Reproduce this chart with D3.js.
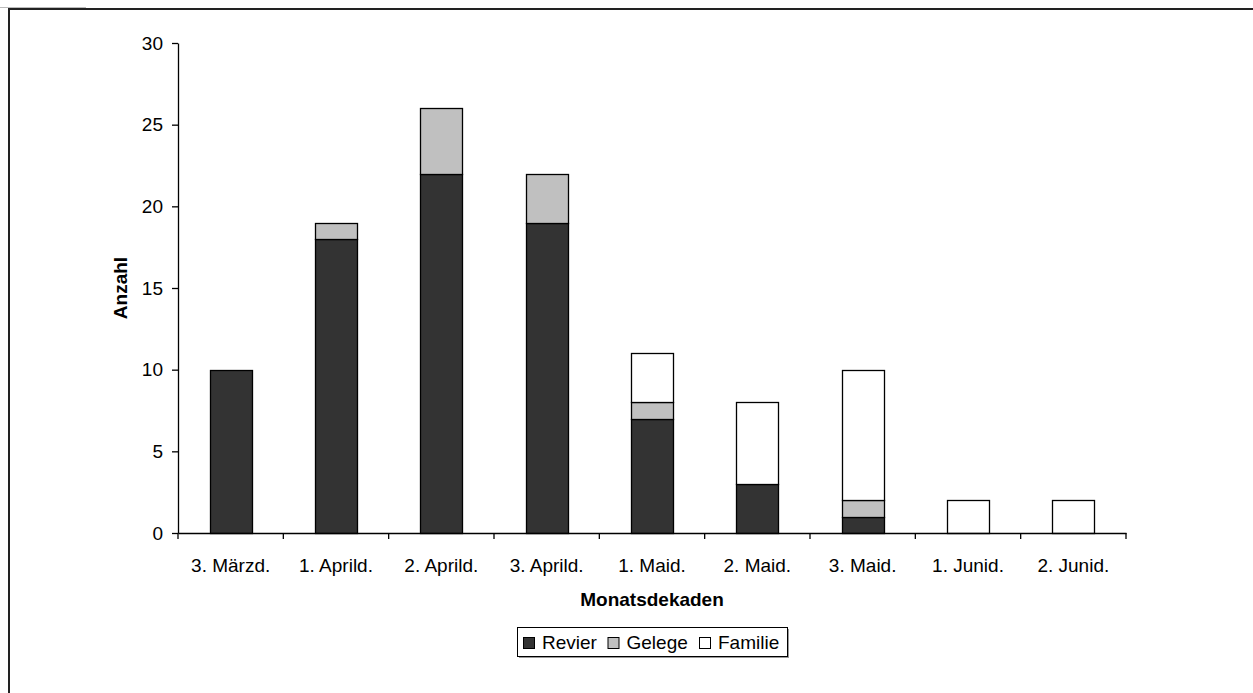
<!DOCTYPE html>
<html><head><meta charset="utf-8">
<script src="https://cdn.jsdelivr.net/npm/d3@7"></script>
<style>
html,body{margin:0;padding:0;background:#fff;}
svg{display:block;font-family:"Liberation Sans",Arial,sans-serif;}
</style></head>
<body>
<svg id="chart" width="1253" height="693"></svg>
<script>
const categories = ["3. Märzd.","1. Aprild.","2. Aprild.","3. Aprild.","1. Maid.","2. Maid.","3. Maid.","1. Junid.","2. Junid."];
const revier  = [10,18,22,19,7,3,1,0,0];
const gelege  = [0,1,4,3,1,0,1,0,0];
const familie = [0,0,0,0,3,5,8,2,2];
const seriesNames = ["Revier","Gelege","Familie"];
const seriesColors = ["#333333","#C0C0C0","#FFFFFF"];
const yTicks = [0,5,10,15,20,25,30];

(function(){
const svg = d3.select("#chart");
const fs = 19;

// outer frame
svg.append("rect").attr("x",9).attr("y",9).attr("width",1260).attr("height",700)
  .attr("fill","none").attr("stroke","#222").attr("stroke-width",2);
svg.append("line").attr("x1",0).attr("x2",86).attr("y1",7.5).attr("y2",7.5)
  .attr("stroke","#bbb").attr("stroke-width",1);

const pL = 178, pR = 1126, pT = 43, pB = 533;
const x = d3.scaleBand().domain(categories).range([pL,pR]).padding(0);
const y = d3.scaleLinear().domain([0,30]).range([pB,pT]);

const table = categories.map((c,i)=>({cat:c, Revier:revier[i], Gelege:gelege[i], Familie:familie[i]}));
const stack = d3.stack().keys(seriesNames)(table);

const g = svg.append("g");
stack.forEach((layer,si)=>{
  g.selectAll(null).data(layer.filter(d=>d[1]-d[0]>0)).enter().append("rect")
    .attr("x",d=>Math.round(x(d.data.cat)+x.bandwidth()*0.3)+0.5)
    .attr("width",Math.round(x.bandwidth()*0.4))
    .attr("y",d=>Math.round(y(d[1]))+0.5)
    .attr("height",d=>Math.round(y(d[0]))-Math.round(y(d[1])))
    .attr("fill",seriesColors[si]).attr("stroke","#000").attr("stroke-width",1.3);
});

// y axis
const yAxis = svg.append("g").attr("transform",`translate(${pL},0)`)
  .call(d3.axisLeft(y).tickValues(yTicks).tickSize(6).tickPadding(9).tickSizeOuter(0));
yAxis.select(".domain").attr("stroke","#000").attr("stroke-width",1.3);
yAxis.selectAll(".tick line").attr("stroke","#000").attr("stroke-width",1.3);
yAxis.selectAll("text").attr("font-size",fs).attr("fill","#000").attr("font-family","Liberation Sans, Arial, sans-serif");

// x axis
const xAxis = svg.append("g").attr("transform",`translate(0,${pB})`)
  .call(d3.axisBottom(x).tickSize(0).tickPadding(26).tickSizeOuter(0));
xAxis.select(".domain").attr("stroke","#000").attr("stroke-width",1.3);
xAxis.selectAll("text").attr("font-size",fs).attr("fill","#000").attr("font-family","Liberation Sans, Arial, sans-serif");
const bounds = categories.map(c=>x(c)).concat([x(categories[categories.length-1])+x.bandwidth()]);
svg.append("g").selectAll("line").data(bounds).enter().append("line")
  .attr("x1",d=>d).attr("x2",d=>d).attr("y1",pB).attr("y2",pB+6)
  .attr("stroke","#000").attr("stroke-width",1.3);

// axis titles
svg.append("text").attr("x",(pL+pR)/2).attr("y",606).attr("text-anchor","middle")
  .attr("font-size",fs).attr("font-weight","bold").text("Monatsdekaden");
svg.append("text").attr("transform",`translate(127,${(pT+pB)/2}) rotate(-90)`)
  .attr("text-anchor","middle").attr("font-size",fs).attr("font-weight","bold").text("Anzahl");

// legend
const lg = svg.append("g");
lg.append("rect").attr("x",519).attr("y",629).attr("width",270).attr("height",29).attr("fill","#999");
lg.append("rect").attr("x",517.5).attr("y",627.5).attr("width",270).attr("height",29)
  .attr("fill","#fff").attr("stroke","#000").attr("stroke-width",1);
const legX = [523,607.5,699];
seriesNames.forEach((n,i)=>{
  lg.append("rect").attr("x",legX[i]+0.5).attr("y",637.5).attr("width",11).attr("height",11)
    .attr("fill",seriesColors[i]).attr("stroke","#000").attr("stroke-width",1);
  lg.append("text").attr("x",legX[i]+19).attr("y",649).attr("font-size",fs).text(n);
});
})();
</script>
</body></html>
